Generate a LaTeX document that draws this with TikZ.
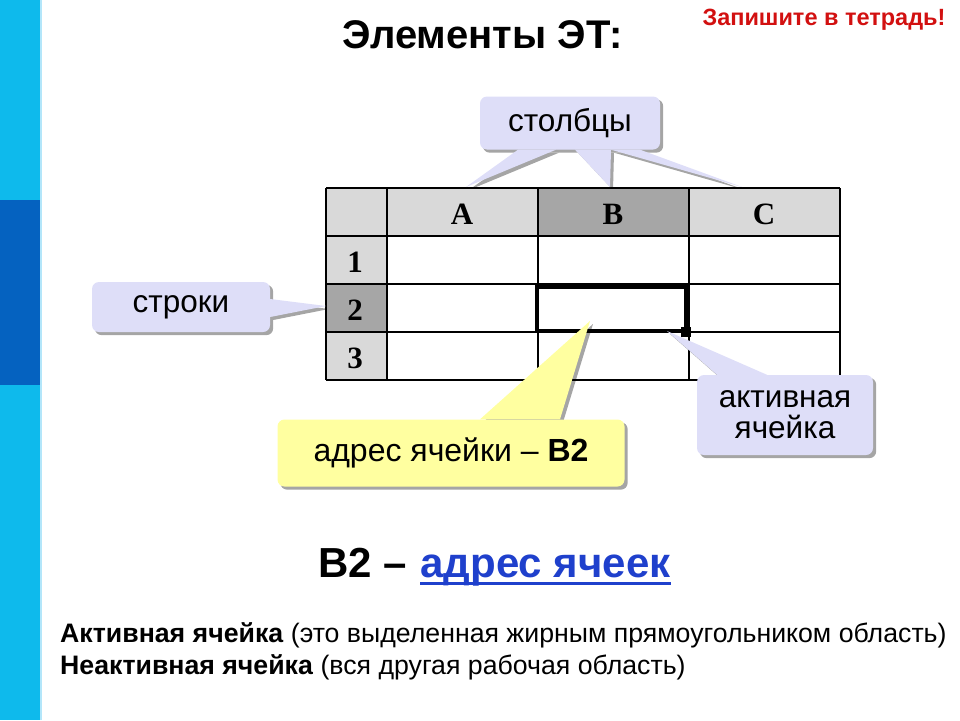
\documentclass[tikz,border=0pt]{standalone}
\usepackage{fontspec}
\setmainfont{Liberation Sans}
\newfontfamily\timesfont{Liberation Serif}
\usetikzlibrary{backgrounds}
\definecolor{barblue}{RGB}{14,186,236}
\definecolor{bardark}{RGB}{5,98,192}
\definecolor{lav}{RGB}{222,222,248}
\definecolor{note}{RGB}{255,255,160}
\definecolor{hdr}{RGB}{217,217,217}
\definecolor{hdrsel}{RGB}{166,166,166}
\definecolor{linkblue}{RGB}{31,64,204}
\definecolor{redtxt}{RGB}{210,16,16}
\definecolor{shadowgray}{RGB}{165,165,165}
% pointer of a callout: fill colour, two base points, tip
\newcommand{\calloutptr}[4]{%
  \begin{scope}[on background layer]
    \fill[shadowgray] ([shift={(3,3)}]#2) -- ([shift={(3,3)}]#3) -- ([shift={(3,3)}]#4) -- cycle;
  \end{scope}
  \fill[#1] (#2) -- (#3) -- (#4) -- cycle;
}
\begin{document}
\begin{tikzpicture}[x=1pt,y=-1pt,
  callout/.style={fill=#1,rounded corners=7pt,inner sep=0pt,align=center},
  hdrlbl/.style={font=\timesfont\bfseries\fontsize{31}{33}\selectfont},
  grid/.style={line width=1.2pt}]
\useasboundingbox (0,0) rectangle (960,720);
% side bar
\fill[barblue] (0,0) rectangle (40,720);
\fill[bardark] (0,200) rectangle (40,385);
\draw[cyan!30,line width=1.5pt] (41,0) -- (41,720);
% titles
\node[font=\bfseries\fontsize{40}{42}\selectfont] (title) at (483,35) {Элементы ЭТ:};
\node[font=\bfseries\fontsize{23.5}{25}\selectfont,text=redtxt] (note) at (824,20) {Запишите в тетрадь!};
% table
\fill[hdr] (326,188) rectangle (840,236);
\fill[hdr] (326,188) rectangle (387,380);
\fill[hdrsel] (538,188) rectangle (689,236);
\fill[hdrsel] (326,284) rectangle (387,332);
\foreach \y in {188,236,284,332,380} {
  \draw[grid] (326,\y) -- (840,\y);
}
\foreach \x in {326,387,538,689,840} {
  \draw[grid] (\x,188) -- (\x,380);
}
\node[hdrlbl] (colA) at (462,214) {A};
\node[hdrlbl] (colB) at (613,214) {B};
\node[hdrlbl] (colC) at (764,214) {C};
\node[hdrlbl] (row1) at (355,262) {1};
\node[hdrlbl] (row2) at (355,310) {2};
\node[hdrlbl] (row3) at (355,358) {3};
% active cell
\draw[line width=4pt] (537,287) rectangle (686,331);
\node[fill=black,minimum size=10pt,inner sep=0pt] (handle) at (686,332) {};
% callout tips
\coordinate (tipA) at (466,187);
\coordinate (tipB) at (610,187);
\coordinate (tipC) at (742,187);
\coordinate (tipRow) at (326,306);
\coordinate (tipAddr) at (590,321);
\coordinate (tipAct) at (667,331);
% callouts
\node[callout=lav,minimum width=180pt,minimum height=53pt,font=\fontsize{31.5}{33}\selectfont] (cols) at (570,123) {столбцы};
\node[callout=lav,minimum width=178pt,minimum height=50pt,font=\fontsize{31.5}{33}\selectfont] (rows) at (181,307) {строки};
\node[callout=note,minimum width=347pt,minimum height=67pt,font=\fontsize{32}{34}\selectfont] (addr) at (451,453) {адрес ячейки -- \textbf{B2}};
\node[callout=lav,minimum width=176pt,minimum height=80pt,font=\fontsize{31.5}{31}\selectfont] (act) at (785,415) {активная\\ячейка};
\begin{scope}[on background layer]
  \foreach \n in {cols,rows,addr,act} {
    \fill[shadowgray,rounded corners=7pt] ([shift={(3,3)}]\n.north west) rectangle ([shift={(3,3)}]\n.south east);
  }
\end{scope}
% pointer bases
\coordinate (colsA1) at ([xshift=-52pt]cols.south);
\coordinate (colsA2) at ([xshift=-14pt]cols.south);
\coordinate (colsB1) at ([xshift=5pt]cols.south);
\coordinate (colsB2) at ([xshift=41pt]cols.south);
\coordinate (colsC2) at ([xshift=70pt]cols.south);
\coordinate (rows1) at ([yshift=8pt]rows.east);
\coordinate (rows2) at ([yshift=-10pt]rows.east);
\coordinate (addr1) at ([xshift=29pt]addr.north);
\coordinate (addr2) at ([xshift=109pt]addr.north);
\coordinate (act1) at ([xshift=-68pt]act.north);
\coordinate (act2) at ([xshift=-18pt]act.north);
\calloutptr{lav}{colsA1}{colsA2}{tipA}
\calloutptr{lav}{colsB1}{colsB2}{tipB}
\calloutptr{lav}{colsB2}{colsC2}{tipC}
\calloutptr{lav}{rows1}{rows2}{tipRow}
\calloutptr{note}{addr1}{addr2}{tipAddr}
\calloutptr{lav}{act1}{act2}{tipAct}
% address line
\node[font=\bfseries\fontsize{42}{44}\selectfont,inner sep=0pt,anchor=base west] (b2lbl) at (318,577) {B2 --};
\node[font=\bfseries\fontsize{42}{44}\selectfont,inner sep=0pt,anchor=base west,text=linkblue] (link) at ([xshift=13pt]b2lbl.base east) {адрес ячеек};
\draw[linkblue,line width=3pt] ([yshift=-6pt]link.base west) -- ([yshift=-6pt]link.base east);
% description
\node[font=\fontsize{26.7}{28}\selectfont,anchor=base west,inner sep=0pt] (desc1) at (60,642) {\textbf{Активная ячейка} (это выделенная жирным прямоугольником область)};
\node[font=\fontsize{26.7}{28}\selectfont,anchor=base west,inner sep=0pt] (desc2) at (60,674) {\textbf{Неактивная ячейка} (вся другая рабочая область)};
\end{tikzpicture}
\end{document}
